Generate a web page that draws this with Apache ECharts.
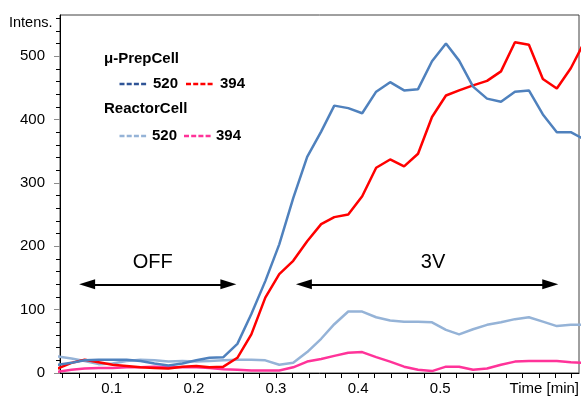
<!DOCTYPE html>
<html>
<head>
<meta charset="utf-8">
<script src="https://cdn.jsdelivr.net/npm/echarts@6/dist/echarts.min.js"></script>
<style>
  html, body { margin: 0; padding: 0; background: #fff; }
  #chart { width: 581px; height: 396px; }
</style>
</head>
<body>
<div id="chart"></div>
<script>
// Sample times [min], one sample per second
const times = [
  0.034, 0.051, 0.067, 0.084, 0.101, 0.118, 0.135, 0.152, 0.169, 0.186,
  0.203, 0.219, 0.236, 0.253, 0.270, 0.287, 0.304, 0.321, 0.338, 0.355,
  0.371, 0.388, 0.405, 0.422, 0.439, 0.456, 0.473, 0.490, 0.507, 0.523,
  0.540, 0.557, 0.574, 0.591, 0.608, 0.625, 0.642, 0.659, 0.675
];

// μ-PrepCell, m/z 520
const prep520 = [
  13, 16, 20, 21, 21, 21, 19, 15, 12, 15,
  20, 24, 25, 46, 93, 145, 203, 276, 341, 381,
  422, 418, 410, 444, 459, 446, 448, 492, 520, 493,
  452, 433, 428, 444, 446, 408, 380, 380, 369
];
// μ-PrepCell, m/z 394
const prep394 = [
  7, 16, 21, 17, 13, 11, 9, 8, 7, 10,
  11, 9, 10, 24, 61, 119, 156, 177, 208, 235,
  246, 250, 279, 324, 337, 326, 346, 404, 438, 446,
  454, 461, 476, 522, 518, 464, 449, 481, 521
];
// ReactorCell, m/z 520
const reactor520 = [
  26, 23, 19, 14, 15, 19, 21, 20, 18, 19,
  18, 19, 20, 21, 21, 20, 13, 16, 33, 54,
  77, 97, 97, 88, 83, 81, 81, 80, 68, 61,
  69, 76, 80, 85, 88, 81, 74, 76, 76
];
// ReactorCell, m/z 394
const reactor394 = [
  2, 5, 7, 8, 8, 9, 9, 10, 9, 9,
  9, 8, 6, 5, 4, 4, 4, 9, 18, 22,
  27, 32, 33, 25, 18, 10, 5, 3, 10, 10,
  5, 7, 13, 18, 19, 19, 19, 17, 16
];

// Axis ticks and labels
const xTicks = [0.04, 0.06, 0.08, 0.10, 0.12, 0.14, 0.16, 0.18, 0.20, 0.22, 0.24,
  0.26, 0.28, 0.30, 0.32, 0.34, 0.36, 0.38, 0.40, 0.42, 0.44, 0.46, 0.48, 0.50,
  0.52, 0.54, 0.56, 0.58, 0.60, 0.62, 0.64, 0.66];
const xLabels = [0.1, 0.2, 0.3, 0.4, 0.5];
const yMinorTicks = [0, 20, 40, 60, 80, 100, 120, 140, 160, 180, 200, 220, 240, 260,
  280, 300, 320, 340, 360, 380, 400, 420, 440, 460, 480, 500, 520, 540, 560];
const yLabels = [0, 100, 200, 300, 400, 500];

// Voltage phases: label, start, end [min], height on the intensity scale
const phaseNames = ['OFF', '3V'];
const phaseStart = [0.070, 0.334];
const phaseEnd = [0.242, 0.634];
const phaseLabelShift = [-5, 6];
const phaseLevel = 140;

const FONT = '"Liberation Sans", Arial, sans-serif';
const colors = {
  prep520: '#4f81bd',
  prep394: '#ff0000',
  reactor520: '#95b3d7',
  reactor394: '#ff3399',
  prep520Key: '#2f5496'
};

const pairs = arr => times.map((t, i) => [t, arr[i]]);

const chart = echarts.init(document.getElementById('chart'), null, { renderer: 'canvas' });

function lineSeries(name, data, color, extra) {
  return Object.assign({
    name: name,
    type: 'line',
    data: pairs(data),
    symbol: 'none',
    smooth: false,
    clip: true,
    lineStyle: { color: color, width: 2.5 },
    itemStyle: { color: color },
    emphasis: { disabled: true }
  }, extra || {});
}

const phaseLines = phaseNames.map((n, i) => [
  { coord: [phaseStart[i], phaseLevel], name: n, label: { offset: [phaseLabelShift[i], 0] } },
  { coord: [phaseEnd[i], phaseLevel] }
]);

// Hand-made key with group headings and dashed swatches
function keySwatch(x, y, color) {
  return {
    type: 'line',
    shape: { x1: x, y1: y, x2: x + 27, y2: y },
    style: { stroke: color, lineWidth: 2.5, lineDash: [5, 2.2] }
  };
}
function keyText(x, y, text) {
  return {
    type: 'text',
    x: x, y: y,
    style: { text: text, font: 'bold 15px ' + FONT, fill: '#000', verticalAlign: 'middle' }
  };
}

chart.setOption({
  animation: false,
  backgroundColor: '#fff',
  grid: {
    left: 60, right: 2, top: 15, bottom: 22,
    show: true, borderColor: '#404040', borderWidth: 1,
    containLabel: false
  },
  xAxis: {
    type: 'value',
    min: 0.037,
    max: 0.669,
    axisLine: { show: true, lineStyle: { color: '#000', width: 1 } },
    axisTick: { show: true, length: 5, lineStyle: { color: '#000' }, customValues: xTicks },
    axisLabel: {
      customValues: xLabels,
      formatter: v => v.toFixed(1),
      fontFamily: FONT, fontSize: 15, color: '#000', margin: 8
    },
    splitLine: { show: false }
  },
  yAxis: [
    {
      type: 'value', min: 0, max: 565, position: 'left',
      axisLine: { show: true, lineStyle: { color: '#000', width: 1 } },
      axisTick: { show: true, length: 4, lineStyle: { color: '#000' }, customValues: yMinorTicks },
      axisLabel: {
        customValues: yLabels,
        fontFamily: FONT, fontSize: 15, color: '#000', margin: 15
      },
      splitLine: { show: false }
    },
    {
      type: 'value', min: 0, max: 565, position: 'left', offset: 0,
      axisLine: { show: false },
      axisTick: { show: true, length: 6, lineStyle: { color: '#8c8c8c' }, customValues: yLabels },
      axisLabel: { show: false },
      splitLine: { show: false }
    }
  ],
  series: [
    lineSeries('ReactorCell 394', reactor394, colors.reactor394, {
      markLine: {
        silent: true,
        animation: false,
        symbol: ['triangle', 'triangle'],
        symbolSize: [10, 16],
        lineStyle: { color: '#000', type: 'solid', width: 2 },
        label: {
          show: true, position: 'middle', formatter: p => p.name,
          fontFamily: FONT, fontSize: 20, color: '#000', distance: 12
        },
        data: phaseLines
      }
    }),
    lineSeries('ReactorCell 520', reactor520, colors.reactor520),
    lineSeries('μ-PrepCell 394', prep394, colors.prep394),
    lineSeries('μ-PrepCell 520', prep520, colors.prep520)
  ],
  graphic: [
    {
      type: 'text', x: 9, y: 23,
      style: { text: 'Intens.', font: '14.5px ' + FONT, fill: '#000', verticalAlign: 'middle' }
    },
    {
      type: 'text', x: 579, y: 389,
      style: { text: 'Time [min]', font: '15px ' + FONT, fill: '#000', align: 'right', verticalAlign: 'middle' }
    },
    keyText(104, 58.5, 'μ-PrepCell'),
    keySwatch(119.5, 84, colors.prep520Key),
    keyText(153, 84, '520'),
    keySwatch(186, 84, colors.prep394),
    keyText(220, 84, '394'),
    keyText(104, 108.5, 'ReactorCell'),
    keySwatch(119.5, 136, colors.reactor520),
    keyText(152, 136, '520'),
    keySwatch(184, 136, colors.reactor394),
    keyText(216, 136, '394')
  ]
});
</script>
</body>
</html>
